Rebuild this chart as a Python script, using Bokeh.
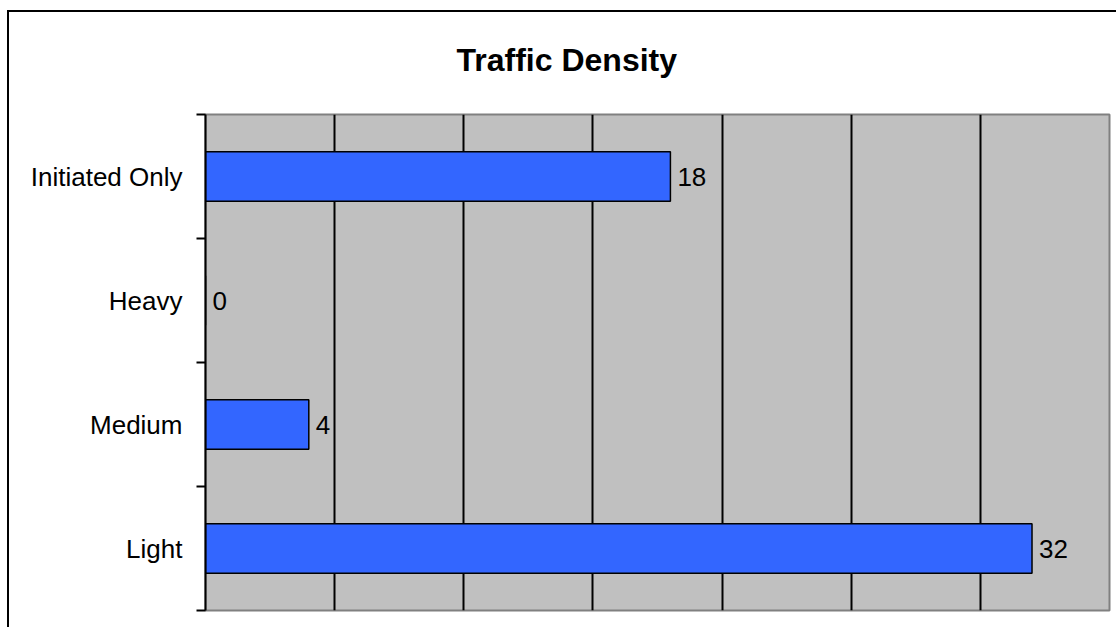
from bokeh.plotting import figure
from bokeh.models import ColumnDataSource, FixedTicker, Range1d, InlineStyleSheet
from bokeh.core.properties import value
from bokeh.embed import file_html
from bokeh.resources import INLINE

categories = ["Light", "Medium", "Heavy", "Initiated Only"]
counts = [32, 4, 0, 18]
x_grid_ticks = [5, 10, 15, 20, 25, 30]
x_max = 35

ypos = list(range(len(categories)))
src = ColumnDataSource(dict(y=ypos, count=counts, label=[str(c) for c in counts]))

FONT = "Liberation Sans"

p = figure(width=1116, height=627, output_backend="svg", toolbar_location=None,
           x_range=Range1d(0, x_max), y_range=Range1d(-0.5, len(categories) - 0.5),
           min_border_left=205, min_border_right=7, min_border_top=114, min_border_bottom=17)

p.background_fill_color = "#C0C0C0"
p.border_fill_color = "white"
p.outline_line_color = "#808080"
p.outline_line_width = 2

p.title.text = "Traffic Density"
p.title.text_font = FONT
p.title.text_font_size = "32px"
p.title.text_font_style = "bold"
p.title.text_color = "black"
p.title.align = "left"
p.title.offset = 251
p.title.standoff = 73

p.xaxis.visible = False
p.xgrid.ticker = FixedTicker(ticks=x_grid_ticks)
p.xgrid.grid_line_color = "black"
p.xgrid.grid_line_width = 2
p.ygrid.grid_line_color = None

yax = p.yaxis[0]
yax.ticker = FixedTicker(ticks=ypos, minor_ticks=[i - 0.5 for i in range(len(categories) + 1)])
yax.major_label_overrides = {i: c for i, c in enumerate(categories)}
yax.major_tick_line_color = None
yax.major_tick_out = 9
yax.major_tick_in = 0
yax.minor_tick_line_color = "black"
yax.minor_tick_line_width = 2
yax.minor_tick_out = 9
yax.minor_tick_in = 0
yax.axis_line_color = "black"
yax.axis_line_width = 2
yax.major_label_standoff = 14
yax.major_label_text_font = FONT
yax.major_label_text_font_size = "26px"
yax.major_label_text_color = "black"

p.hbar(y="y", right="count", left=0, height=0.4, source=src,
       fill_color="#3366FF", line_color="black", line_width=1.5)

p.text(x="count", y="y", text="label", source=src, x_offset=7,
       text_baseline="middle", text_align="left",
       text_font=value(FONT), text_font_size="26px", text_color="black")

p.stylesheets = [InlineStyleSheet(css="""
:host { position: relative; }
:host::after {
  content: "";
  position: absolute;
  left: 7px; top: 10px; right: 0; bottom: 0;
  border-left: 2.5px solid black;
  border-top: 2.5px solid black;
  pointer-events: none;
  z-index: 10;
}
""")]

open("out.html", "w").write(file_html(p, INLINE))
